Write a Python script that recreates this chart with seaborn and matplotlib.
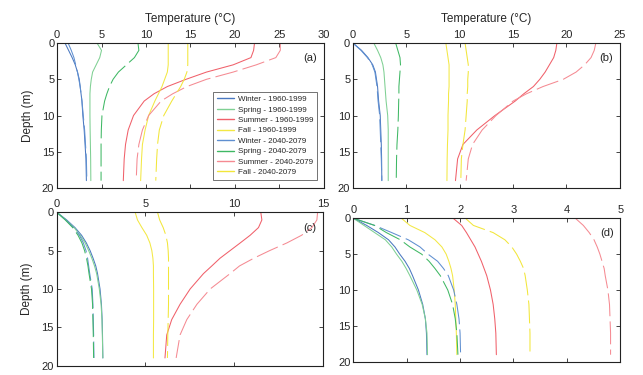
import matplotlib
matplotlib.use("Agg")
import matplotlib.pyplot as plt
import seaborn as sns
from matplotlib.lines import Line2D

# depth levels (m)
depth = [0, 1, 2, 3, 4, 5, 6, 7, 8, 10, 12, 14, 16, 19]

# panel (a)
a_winter_hist = [0.9, 1.3, 1.7, 2.05, 2.3, 2.5, 2.6, 2.7, 2.8, 2.9, 3.05, 3.15, 3.25, 3.3]
a_winter_fut = [1.25, 1.6, 1.9, 2.1, 2.3, 2.45, 2.6, 2.7, 2.8, 2.95, 3.1, 3.2, 3.3, 3.35]
a_spring_hist = [4.5, 5.0, 4.8, 4.4, 4.0, 3.85, 3.75, 3.7, 3.7, 3.7, 3.72, 3.75, 3.78, 3.8]
a_spring_fut = [9.1, 9.2, 8.7, 7.8, 6.9, 6.3, 5.9, 5.6, 5.35, 5.05, 4.98, 4.95, 4.95, 4.95]
a_summer_hist = [22.2, 22.1, 21.8, 19.8, 16.8, 14.5, 12.4, 10.9, 9.8, 8.6, 8.0, 7.7, 7.55, 7.45]
a_summer_fut = [25.1, 25.1, 24.6, 22.4, 19.8, 16.8, 14.6, 13.0, 11.7, 10.3, 9.6, 9.2, 9.0, 8.9]
a_fall_hist = [12.5, 12.5, 12.5, 12.5, 12.4, 12.1, 11.8, 11.4, 11.0, 10.3, 9.9, 9.6, 9.5, 9.4]
a_fall_fut = [14.7, 14.7, 14.7, 14.7, 14.6, 14.3, 13.9, 13.4, 12.9, 12.0, 11.5, 11.3, 11.2, 11.1]

# panel (b)
b_winter_hist = [0.0, 0.8, 1.4, 1.85, 2.1, 2.2, 2.3, 2.35, 2.4, 2.55, 2.6, 2.65, 2.68, 2.7]
b_winter_fut = [0.0, 0.75, 1.35, 1.8, 2.05, 2.15, 2.25, 2.3, 2.35, 2.5, 2.55, 2.6, 2.65, 2.7]
b_spring_hist = [1.95, 2.3, 2.6, 2.8, 2.9, 2.95, 3.0, 3.05, 3.1, 3.25, 3.3, 3.3, 3.3, 3.3]
b_spring_fut = [4.0, 4.2, 4.4, 4.45, 4.4, 4.35, 4.3, 4.3, 4.28, 4.25, 4.2, 4.12, 4.08, 4.05]
b_summer_hist = [19.1, 19.0, 18.8, 18.4, 18.0, 17.5, 16.9, 16.0, 15.2, 13.3, 11.6, 10.3, 9.8, 9.6]
b_summer_fut = [22.75, 22.6, 22.3, 21.7, 20.9, 19.7, 17.8, 16.25, 15.0, 13.4, 12.1, 11.2, 10.8, 10.6]
b_fall_hist = [8.7, 8.8, 8.9, 9.0, 9.0, 9.0, 9.0, 8.95, 8.95, 8.9, 8.9, 8.85, 8.82, 8.8]
b_fall_fut = [10.5, 10.6, 10.7, 10.8, 10.8, 10.75, 10.75, 10.7, 10.7, 10.6, 10.5, 10.3, 10.15, 10.1]

# panel (c)
c_winter_hist = [0.0, 0.56, 1.03, 1.4, 1.67, 1.88, 2.05, 2.2, 2.3, 2.44, 2.52, 2.56, 2.58, 2.6]
c_winter_fut = [0.0, 0.5, 0.95, 1.28, 1.5, 1.65, 1.74, 1.8, 1.86, 2.0, 2.04, 2.06, 2.08, 2.1]
c_spring_hist = [0.0, 0.52, 0.98, 1.32, 1.6, 1.8, 1.98, 2.13, 2.25, 2.4, 2.5, 2.55, 2.57, 2.6]
c_spring_fut = [0.0, 0.48, 0.9, 1.2, 1.42, 1.57, 1.68, 1.76, 1.82, 1.96, 2.02, 2.04, 2.06, 2.08]
c_summer_hist = [11.5, 11.56, 11.37, 10.9, 10.34, 9.77, 9.2, 8.74, 8.27, 7.52, 6.95, 6.48, 6.2, 6.1]
c_summer_fut = [14.7, 14.66, 14.38, 13.8, 12.97, 12.0, 11.1, 10.3, 9.77, 8.65, 7.9, 7.33, 6.95, 6.73]
c_fall_hist = [4.42, 4.55, 4.8, 5.07, 5.25, 5.36, 5.42, 5.45, 5.45, 5.46, 5.46, 5.46, 5.45, 5.45]
c_fall_fut = [5.68, 5.8, 6.0, 6.15, 6.24, 6.28, 6.3, 6.3, 6.3, 6.3, 6.3, 6.28, 6.26, 6.24]

# panel (d)
d_winter_hist = [0.0, 0.25, 0.47, 0.66, 0.78, 0.87, 0.97, 1.05, 1.11, 1.22, 1.3, 1.35, 1.37, 1.38]
d_winter_fut = [0.0, 0.4, 0.72, 1.03, 1.25, 1.4, 1.58, 1.69, 1.78, 1.88, 1.94, 1.98, 2.0, 2.01]
d_spring_hist = [0.0, 0.2, 0.4, 0.6, 0.72, 0.81, 0.91, 0.99, 1.06, 1.19, 1.29, 1.35, 1.38, 1.39]
d_spring_fut = [0.0, 0.4, 0.62, 0.88, 1.06, 1.28, 1.42, 1.53, 1.63, 1.77, 1.86, 1.91, 1.94, 1.96]
d_summer_hist = [1.87, 2.03, 2.12, 2.2, 2.28, 2.34, 2.4, 2.45, 2.5, 2.57, 2.62, 2.65, 2.67, 2.68]
d_summer_fut = [4.16, 4.31, 4.42, 4.51, 4.57, 4.62, 4.66, 4.7, 4.72, 4.77, 4.8, 4.81, 4.82, 4.82]
d_fall_hist = [0.9, 1.06, 1.34, 1.53, 1.66, 1.74, 1.79, 1.83, 1.86, 1.89, 1.91, 1.92, 1.93, 1.94]
d_fall_fut = [2.1, 2.25, 2.62, 2.84, 2.97, 3.06, 3.13, 3.19, 3.22, 3.26, 3.29, 3.3, 3.31, 3.31]

legend_labels = ["Winter - 1960-1999", "Spring - 1960-1999", "Summer - 1960-1999", "Fall - 1960-1999",
                 "Winter - 2040-2079", "Spring - 2040-2079", "Summer - 2040-2079", "Fall - 2040-2079"]
colors = ["#4a78c0", "#7fd093", "#f0606a", "#f3e844",
          "#5f8fd0", "#3fb864", "#f58a92", "#f2e63a"]

sns.set_style("ticks")
plt.rcParams["font.family"] = ["Liberation Sans", "DejaVu Sans"]

fig = plt.figure(figsize=(6.43, 3.75), dpi=100)

panels = [
    ("(a)", [0.0887, 0.499, 0.415, 0.386], 30, [0, 5, 10, 15, 20, 25, 30],
     [a_winter_hist, a_spring_hist, a_summer_hist, a_fall_hist,
      a_winter_fut, a_spring_fut, a_summer_fut, a_fall_fut]),
    ("(b)", [0.549, 0.499, 0.415, 0.386], 25, [0, 5, 10, 15, 20, 25],
     [b_winter_hist, b_spring_hist, b_summer_hist, b_fall_hist,
      b_winter_fut, b_spring_fut, b_summer_fut, b_fall_fut]),
    ("(c)", [0.0882, 0.025, 0.414, 0.409], 15, [0, 5, 10, 15],
     [c_winter_hist, c_spring_hist, c_summer_hist, c_fall_hist,
      c_winter_fut, c_spring_fut, c_summer_fut, c_fall_fut]),
    ("(d)", [0.5495, 0.035, 0.415, 0.383], 5, [0, 1, 2, 3, 4, 5],
     [d_winter_hist, d_spring_hist, d_summer_hist, d_fall_hist,
      d_winter_fut, d_spring_fut, d_summer_fut, d_fall_fut]),
]

for label, rect, xmax, xticks, series in panels:
    ax = fig.add_axes(rect)
    for i, temps in enumerate(series):
        ls = "-" if i < 4 else (0, (22, 5))
        sns.lineplot(x=temps, y=depth, ax=ax, sort=False, estimator=None,
                     color=colors[i], lw=0.75, linestyle=ls)
    ax.set_xlim(0, xmax)
    ax.set_ylim(20, 0)
    ax.set_xticks(xticks)
    ax.set_yticks([0, 5, 10, 15, 20])
    ax.xaxis.set_ticks_position("both")
    ax.yaxis.set_ticks_position("both")
    ax.tick_params(direction="in", length=3, width=0.6, labelsize=8,
                   top=True, bottom=True, labeltop=True, labelbottom=False,
                   left=True, right=True, pad=2)
    for sp in ax.spines.values():
        sp.set_linewidth(0.8)
        sp.set_color("#222222")
    ax.set_xlabel("")
    ax.set_ylabel("")
    ax.text(0.975, 0.93, label, transform=ax.transAxes, ha="right", va="top", fontsize=8)
    if label in ("(a)", "(b)"):
        ax.xaxis.set_label_position("top")
        ax.set_xlabel("Temperature (°C)", fontsize=8.5, labelpad=6)
    if label in ("(a)", "(c)"):
        ax.set_ylabel("Depth (m)", fontsize=8.5, labelpad=6)
    if label == "(a)":
        handles = [Line2D([0], [0], color=c, lw=1) for c in colors]
        leg = ax.legend(handles, legend_labels, loc="lower right", fontsize=5.8,
                        frameon=True, fancybox=False, handlelength=2.2,
                        borderpad=0.4, labelspacing=0.35, handletextpad=0.5,
                        bbox_to_anchor=(0.99, 0.03))
        leg.get_frame().set_edgecolor("#333333")
        leg.get_frame().set_linewidth(0.6)

plt.savefig("out.png", dpi=100)
